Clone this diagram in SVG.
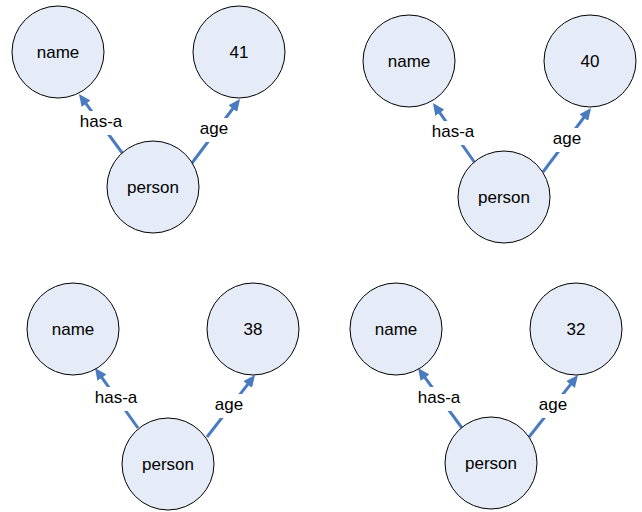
<svg xmlns="http://www.w3.org/2000/svg" width="642" height="512" viewBox="0 0 642 512">
<style>
.node{fill:#E6ECF7;stroke:#000;stroke-width:1}
text{font-family:"Liberation Sans",Arial,sans-serif;font-size:17px;fill:#000;text-anchor:middle}
.edge{stroke:#4A7BC0;stroke-width:3;fill:none;marker-end:url(#arr)}
.lbg{fill:#fff}
</style>
<defs>
<marker id="arr" markerUnits="userSpaceOnUse" markerWidth="12" markerHeight="11" refX="2" refY="5.5" orient="auto">
<path d="M0,0 L12,5.5 L0,11 z" fill="#4A7BC0"/>
</marker>
</defs>
<rect width="642" height="512" fill="#fff"/>
<g id="connectors">
<line class="edge" x1="123" y1="154" x2="84.9" y2="102.1"/>
<line class="edge" x1="192" y1="163" x2="234" y2="107"/>
<line class="edge" x1="475" y1="163" x2="438.7" y2="111.2"/>
<line class="edge" x1="543" y1="172" x2="585" y2="116"/>
<line class="edge" x1="138" y1="428" x2="100.8" y2="376.1"/>
<line class="edge" x1="207" y1="437" x2="248.9" y2="382.9"/>
<line class="edge" x1="462" y1="428" x2="423.9" y2="376.1"/>
<line class="edge" x1="529" y1="437" x2="571.8" y2="382.9"/>
<rect class="lbg" x="78" y="111" width="46" height="24"/><text x="101" y="127">has-a</text>
<rect class="lbg" x="198" y="118" width="32" height="24"/><text x="214" y="134">age</text>
<rect class="lbg" x="430" y="121" width="46" height="24"/><text x="453" y="137">has-a</text>
<rect class="lbg" x="551" y="128" width="32" height="24"/><text x="567" y="144">age</text>
<rect class="lbg" x="93" y="387" width="46" height="24"/><text x="116" y="403">has-a</text>
<rect class="lbg" x="213" y="394" width="32" height="24"/><text x="229" y="410">age</text>
<rect class="lbg" x="416" y="387" width="46" height="24"/><text x="439" y="403">has-a</text>
<rect class="lbg" x="537" y="394" width="32" height="24"/><text x="553" y="410">age</text>
</g>
<g id="p1-name"><circle class="node" cx="58" cy="52" r="46"/><text x="58" y="58">name</text></g>
<g id="p1-age"><circle class="node" cx="239" cy="52" r="46"/><text x="239" y="58">41</text></g>
<g id="p1-person"><circle class="node" cx="153" cy="187" r="46"/><text x="153" y="193">person</text></g>
<g id="p2-name"><circle class="node" cx="409" cy="61" r="46"/><text x="409" y="67">name</text></g>
<g id="p2-age"><circle class="node" cx="590" cy="61" r="46"/><text x="590" y="67">40</text></g>
<g id="p2-person"><circle class="node" cx="504" cy="197" r="46"/><text x="504" y="203">person</text></g>
<g id="p3-name"><circle class="node" cx="73" cy="329" r="46"/><text x="73" y="335">name</text></g>
<g id="p3-age"><circle class="node" cx="253" cy="329" r="46"/><text x="253" y="335">38</text></g>
<g id="p3-person"><circle class="node" cx="168" cy="464" r="46"/><text x="168" y="470">person</text></g>
<g id="p4-name"><circle class="node" cx="396" cy="329" r="46"/><text x="396" y="335">name</text></g>
<g id="p4-age"><circle class="node" cx="576" cy="329" r="46"/><text x="576" y="335">32</text></g>
<g id="p4-person"><circle class="node" cx="491" cy="463" r="46"/><text x="491" y="469">person</text></g>
</svg>
